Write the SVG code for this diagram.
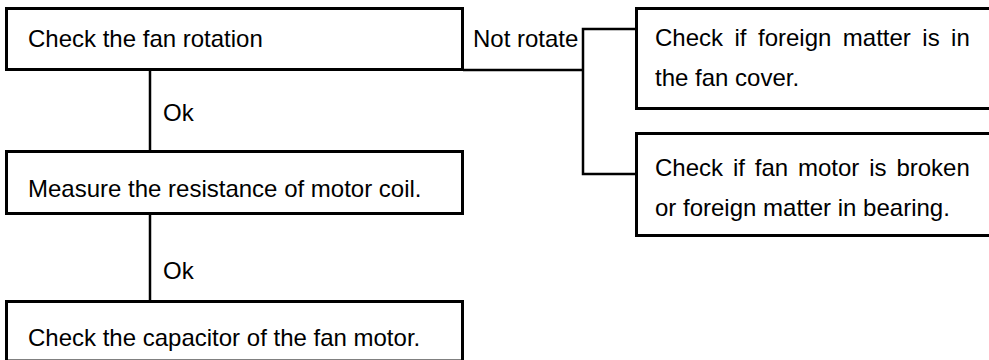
<svg xmlns="http://www.w3.org/2000/svg" width="989" height="360" viewBox="0 0 989 360">
<style>
.box{fill:#fff;stroke:#000;stroke-width:3}
.t{font-family:"Liberation Sans",Arial,sans-serif;font-size:24px;fill:#000}
.c{fill:none;stroke:#000;stroke-width:2.5}
</style>
<rect width="989" height="360" fill="#fff"/>
<g id="connectors">
<line class="c" x1="150" y1="70" x2="150" y2="151"/>
<line class="c" x1="150" y1="214" x2="150" y2="301"/>
<polyline class="c" points="463,70 583,70"/>
<polyline class="c" points="636,29 583,29 583,174 636,174"/>
<text class="t" x="163" y="121">Ok</text>
<text class="t" x="163" y="279">Ok</text>
<text class="t" x="473" y="47">Not rotate</text>
</g>
<g id="n1">
<rect class="box" x="6.5" y="8.5" width="456" height="61"/>
<text class="t" x="28" y="47">Check the fan rotation</text>
</g>
<g id="n2">
<rect class="box" x="6.5" y="151.5" width="456" height="62"/>
<text class="t" x="28" y="197">Measure the resistance of motor coil.</text>
</g>
<g id="n3">
<rect class="box" x="6.5" y="301.5" width="456" height="59.5"/>
<text class="t" x="28" y="346">Check the capacitor of the fan motor.</text>
</g>
<g id="n4">
<rect class="box" x="636.5" y="8.5" width="360" height="100"/>
<text class="t" x="655" y="46" word-spacing="4.8">Check if foreign matter is in</text>
<text class="t" x="655" y="86">the fan cover.</text>
</g>
<g id="n5">
<rect class="box" x="636.5" y="133.5" width="360" height="102"/>
<text class="t" x="655" y="176" word-spacing="3.2">Check if fan motor is broken</text>
<text class="t" x="655" y="216">or foreign matter in bearing.</text>
</g>
</svg>
